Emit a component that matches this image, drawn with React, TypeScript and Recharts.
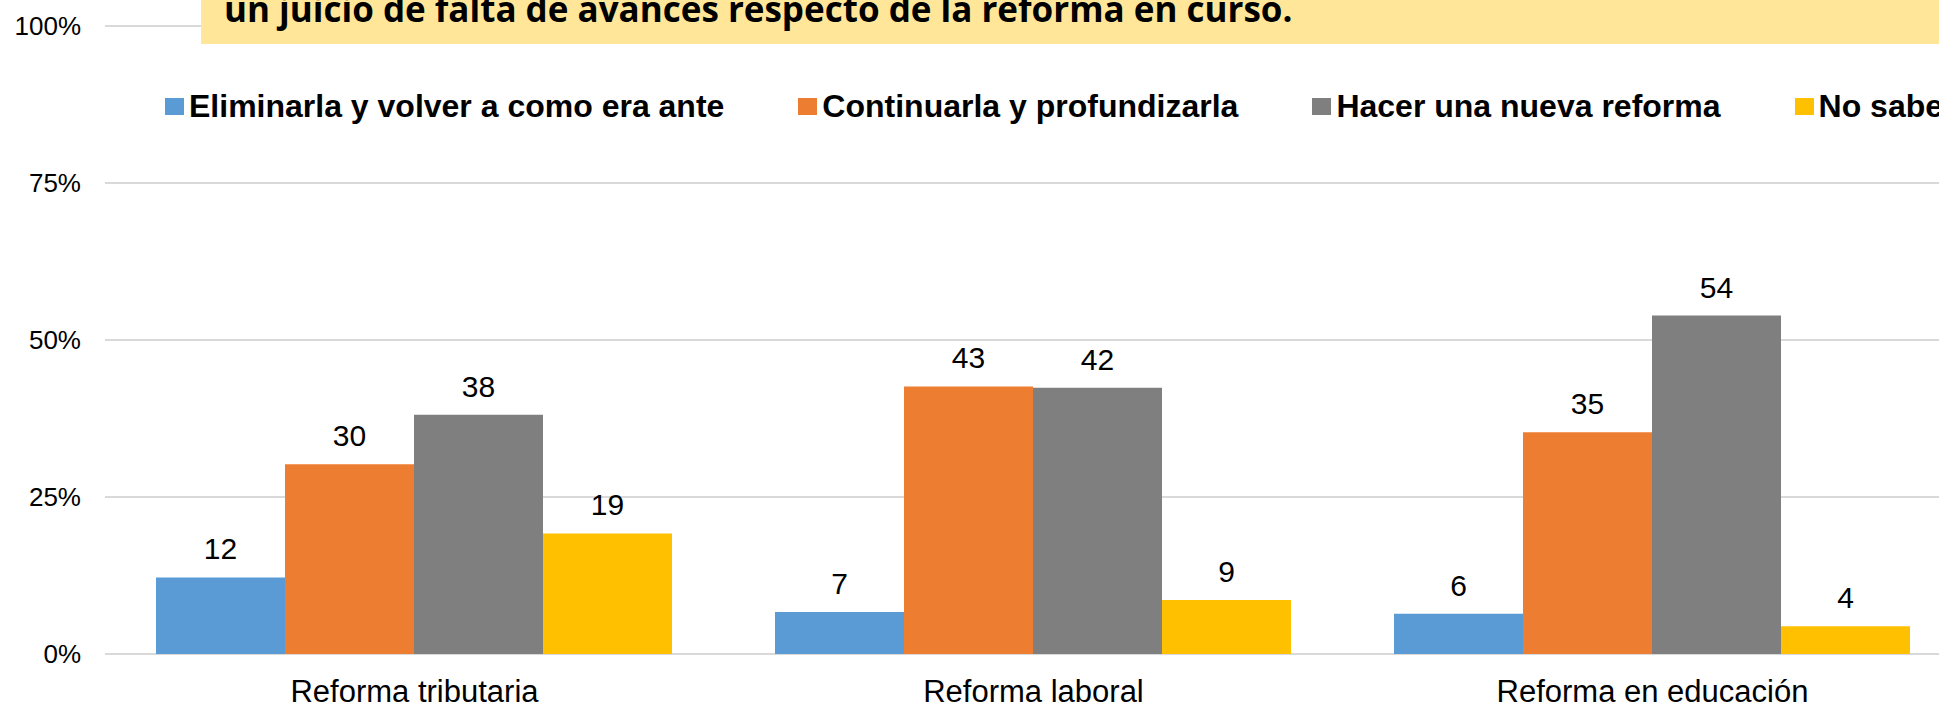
import React from 'react';
import { BarChart, Bar, XAxis, YAxis, CartesianGrid, LabelList, Legend } from 'recharts';

const categories = ['Reforma tributaria', 'Reforma laboral', 'Reforma en educación'];
const eliminarla = [12.2, 6.7, 6.4];
const continuarla = [30.2, 42.6, 35.3];
const nuevaReforma = [38.1, 42.4, 53.9];
const noSabe = [19.2, 8.6, 4.4];

const seriesNames = [
  'Eliminarla y volver a como era ante',
  'Continuarla y profundizarla',
  'Hacer una nueva reforma',
  'No sabe',
];
const seriesKeys = ['eliminarla', 'continuarla', 'nueva', 'nosabe'];
const seriesColors = ['#5B9BD5', '#ED7D31', '#7F7F7F', '#FFC000'];
const yTicks = [0, 25, 50, 75, 100];
const titleText = 'un juicio de falta de avances respecto de la reforma en curso.';

const data = categories.map((c, i) => ({
  category: c,
  eliminarla: eliminarla[i],
  continuarla: continuarla[i],
  nueva: nuevaReforma[i],
  nosabe: noSabe[i],
}));

const FONT = "'Liberation Sans', Arial, sans-serif";

const renderLegend = (props: any) => {
  const payload = [...(props.payload || [])].sort(
    (a: any, b: any) => seriesNames.indexOf(a.value) - seriesNames.indexOf(b.value)
  );
  return (
    <div style={{ display: 'flex', alignItems: 'center', whiteSpace: 'nowrap', fontFamily: FONT }}>
      {payload.map((p: any, i: number) => (
        <div key={i} style={{ display: 'flex', alignItems: 'center', marginRight: 74 }}>
          <div style={{ width: 19, height: 17, background: p.color, marginRight: 5 }} />
          <span style={{ fontSize: 32, fontWeight: 700, color: '#000' }}>{p.value}</span>
        </div>
      ))}
    </div>
  );
};

export default function App() {
  return (
    <div
      style={{
        position: 'fixed',
        left: 0,
        top: 0,
        width: 1939,
        height: 705,
        overflow: 'hidden',
        background: '#fff',
      }}
    >
      <BarChart
        width={1980}
        height={705}
        data={data}
        margin={{ top: 26, right: 18, bottom: 0, left: 0 }}
        barGap={0}
        barCategoryGap={51}
      >
        <CartesianGrid horizontal vertical={false} stroke="#D9D9D9" strokeWidth={2} />
        <XAxis
          dataKey="category"
          height={51}
          axisLine={false}
          tickLine={false}
          tickSize={0}
          tickMargin={26}
          interval={0}
          tick={{ fontSize: 31, fill: '#000', fontFamily: FONT }}
        />
        <YAxis
          width={105}
          domain={[0, 100]}
          ticks={yTicks}
          axisLine={false}
          tickLine={false}
          tickSize={0}
          tickMargin={24}
          tickFormatter={(v: number) => `${v}%`}
          tick={{ fontSize: 26, fill: '#000', fontFamily: FONT }}
        />
        <Legend
          layout="horizontal"
          verticalAlign="middle"
          align="center"
          wrapperStyle={{ top: 88, left: 165, width: 2000 }}
          content={renderLegend}
        />
        {seriesKeys.map((k, i) => (
          <Bar key={k} dataKey={k} name={seriesNames[i]} fill={seriesColors[i]} isAnimationActive={false}>
            <LabelList
              dataKey={k}
              position="top"
              offset={18}
              formatter={(v: any) => Math.round(Number(v))}
              style={{ fontSize: 30, fill: '#000', fontFamily: FONT }}
            />
          </Bar>
        ))}
      </BarChart>
      <div
        style={{
          position: 'absolute',
          left: 201,
          top: 0,
          width: 1800,
          height: 44,
          background: '#FFE699',
          overflow: 'hidden',
        }}
      >
        <div
          style={{
            position: 'absolute',
            left: 23,
            top: -15,
            whiteSpace: 'nowrap',
            fontFamily: "'Open Sans', sans-serif",
            fontWeight: 700,
            fontSize: 35,
            color: '#000',
          }}
        >
          {titleText}
        </div>
      </div>
    </div>
  );
}
